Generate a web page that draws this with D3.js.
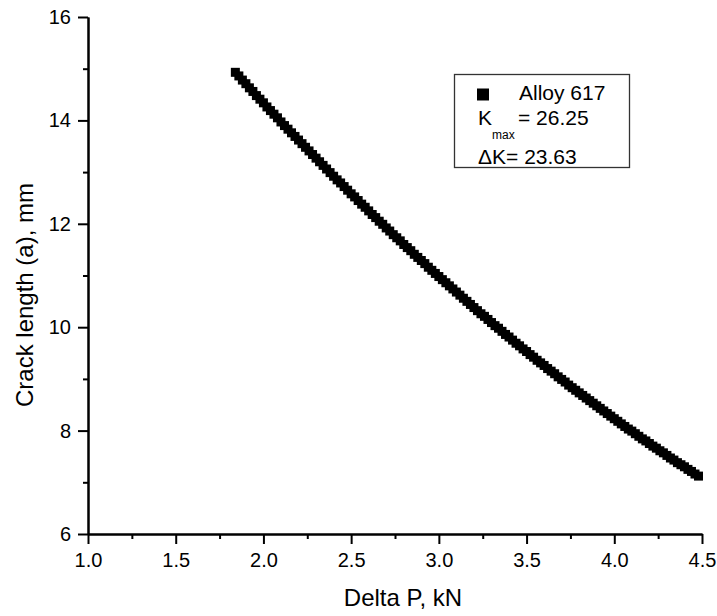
<!DOCTYPE html>
<html>
<head>
<meta charset="utf-8">
<script src="https://cdn.jsdelivr.net/npm/d3@7/dist/d3.min.js"></script>
<style>
  html, body { margin: 0; padding: 0; background: #fff; }
  svg { display: block; font-family: "Liberation Sans", Arial, Helvetica, sans-serif; }
</style>
</head>
<body>
<svg id="chart" width="717" height="616"></svg>
<script>
// Applied load range ΔP (kN) and the matching crack length a (mm), Alloy 617
const deltaP = [
  1.84, 1.86, 1.88, 1.90, 1.92, 1.94, 1.96, 1.98, 2.00, 2.02,
  2.04, 2.06, 2.08, 2.10, 2.12, 2.14, 2.16, 2.18, 2.20, 2.22,
  2.24, 2.26, 2.28, 2.30, 2.32, 2.34, 2.36, 2.38, 2.40, 2.42,
  2.44, 2.46, 2.48, 2.50, 2.52, 2.54, 2.56, 2.58, 2.60, 2.62,
  2.64, 2.66, 2.68, 2.70, 2.72, 2.74, 2.76, 2.78, 2.80, 2.82,
  2.84, 2.86, 2.88, 2.90, 2.92, 2.94, 2.96, 2.98, 3.00, 3.02,
  3.04, 3.06, 3.08, 3.10, 3.12, 3.14, 3.16, 3.18, 3.20, 3.22,
  3.24, 3.26, 3.28, 3.30, 3.32, 3.34, 3.36, 3.38, 3.40, 3.42,
  3.44, 3.46, 3.48, 3.50, 3.52, 3.54, 3.56, 3.58, 3.60, 3.62,
  3.64, 3.66, 3.68, 3.70, 3.72, 3.74, 3.76, 3.78, 3.80, 3.82,
  3.84, 3.86, 3.88, 3.90, 3.92, 3.94, 3.96, 3.98, 4.00, 4.02,
  4.04, 4.06, 4.08, 4.10, 4.12, 4.14, 4.16, 4.18, 4.20, 4.22,
  4.24, 4.26, 4.28, 4.30, 4.32, 4.34, 4.36, 4.38, 4.40, 4.42,
  4.44, 4.46, 4.48
];
const crackLength = [
  14.93, 14.86, 14.78, 14.71, 14.63, 14.56, 14.48, 14.41, 14.34, 14.26,
  14.19, 14.12, 14.05, 13.97, 13.90, 13.83, 13.76, 13.69, 13.62, 13.55,
  13.48, 13.41, 13.34, 13.27, 13.20, 13.13, 13.06, 12.99, 12.92, 12.85,
  12.79, 12.72, 12.65, 12.58, 12.52, 12.45, 12.38, 12.32, 12.25, 12.18,
  12.12, 12.05, 11.99, 11.92, 11.86, 11.79, 11.73, 11.67, 11.60, 11.54,
  11.48, 11.41, 11.35, 11.29, 11.23, 11.16, 11.10, 11.04, 10.98, 10.92,
  10.86, 10.80, 10.74, 10.68, 10.62, 10.56, 10.50, 10.44, 10.38, 10.32,
  10.26, 10.21, 10.15, 10.09, 10.03, 9.98, 9.92, 9.86, 9.81, 9.75,
  9.69, 9.64, 9.58, 9.53, 9.47, 9.42, 9.36, 9.31, 9.26, 9.20,
  9.15, 9.10, 9.04, 8.99, 8.94, 8.88, 8.83, 8.78, 8.73, 8.68,
  8.63, 8.58, 8.53, 8.48, 8.43, 8.38, 8.33, 8.28, 8.23, 8.18,
  8.13, 8.08, 8.03, 7.99, 7.94, 7.89, 7.84, 7.80, 7.75, 7.70,
  7.66, 7.61, 7.57, 7.52, 7.47, 7.43, 7.38, 7.34, 7.30, 7.25,
  7.21, 7.16, 7.12
];

// Axis ticks
const xMajorTicks = [1.0, 1.5, 2.0, 2.5, 3.0, 3.5, 4.0, 4.5];
const xMinorTicks = [1.25, 1.75, 2.25, 2.75, 3.25, 3.75, 4.25];
const yMajorTicks = [6, 8, 10, 12, 14, 16];
const yMinorTicks = [7, 9, 11, 13, 15];

// Legend entries
const seriesName = "Alloy 617";
const kMaxText = "= 26.25";
const deltaKText = "\u0394K= 23.63";

const svg = d3.select("#chart");
const x = d3.scaleLinear().domain([1.0, 4.5]).range([88, 702]);
const y = d3.scaleLinear().domain([6, 16]).range([534, 17]);

const axisStyle = g => {
  g.selectAll("path.domain").attr("stroke", "#000").attr("stroke-width", 2);
  g.selectAll(".tick line").attr("stroke", "#000").attr("stroke-width", 2);
  g.selectAll(".tick text").attr("fill", "#000")
    .style("font-size", "20px")
    .style("font-family", "'Liberation Sans', Arial, sans-serif");
};

// Minor ticks first, then major axes on top
svg.append("g")
  .attr("transform", `translate(0,${y(6)})`)
  .call(d3.axisBottom(x).tickValues(xMinorTicks).tickSize(5).tickSizeOuter(0).tickFormat(""))
  .call(axisStyle);
svg.append("g")
  .attr("transform", `translate(${x(1.0)},0)`)
  .call(d3.axisLeft(y).tickValues(yMinorTicks).tickSize(5).tickSizeOuter(0).tickFormat(""))
  .call(axisStyle);

svg.append("g")
  .attr("transform", `translate(0,${y(6)})`)
  .call(d3.axisBottom(x).tickValues(xMajorTicks).tickSize(10).tickPadding(9)
    .tickSizeOuter(0).tickFormat(d3.format(".1f")))
  .call(axisStyle);
svg.append("g")
  .attr("transform", `translate(${x(1.0)},0)`)
  .call(d3.axisLeft(y).tickValues(yMajorTicks).tickSize(10).tickPadding(7)
    .tickSizeOuter(0).tickFormat(d3.format("d")))
  .call(axisStyle);

// Axis titles
svg.append("text")
  .attr("x", 403).attr("y", 606)
  .attr("text-anchor", "middle")
  .style("font-size", "24px")
  .text("Delta P, kN");
svg.append("text")
  .attr("transform", "translate(33,295) rotate(-90)")
  .attr("text-anchor", "middle")
  .style("font-size", "24px")
  .text("Crack length (a), mm");

// Data markers: filled squares
const markerSize = 9;
const points = deltaP.map((p, i) => ({ p, a: crackLength[i] }));
svg.append("g")
  .selectAll("rect")
  .data(points)
  .join("rect")
  .attr("x", d => x(d.p) - markerSize / 2)
  .attr("y", d => y(d.a) - markerSize / 2)
  .attr("width", markerSize)
  .attr("height", markerSize)
  .attr("fill", "#000");

// Legend box
const legend = svg.append("g");
legend.append("rect")
  .attr("x", 454.5).attr("y", 74.5)
  .attr("width", 175).attr("height", 93)
  .attr("fill", "#fff")
  .attr("stroke", "#333")
  .attr("stroke-width", 1.3);
legend.append("rect")
  .attr("x", 477).attr("y", 88.5)
  .attr("width", 12).attr("height", 12)
  .attr("fill", "#000");
legend.append("text")
  .attr("x", 519).attr("y", 100)
  .style("font-size", "21px")
  .text(seriesName);
legend.append("text")
  .attr("x", 478).attr("y", 125)
  .style("font-size", "21px")
  .text("K");
legend.append("text")
  .attr("x", 492).attr("y", 139)
  .style("font-size", "12px")
  .text("max");
legend.append("text")
  .attr("x", 518).attr("y", 125)
  .style("font-size", "21px")
  .text(kMaxText);
legend.append("text")
  .attr("x", 478).attr("y", 164)
  .style("font-size", "21px")
  .text(deltaKText);
</script>
</body>
</html>
